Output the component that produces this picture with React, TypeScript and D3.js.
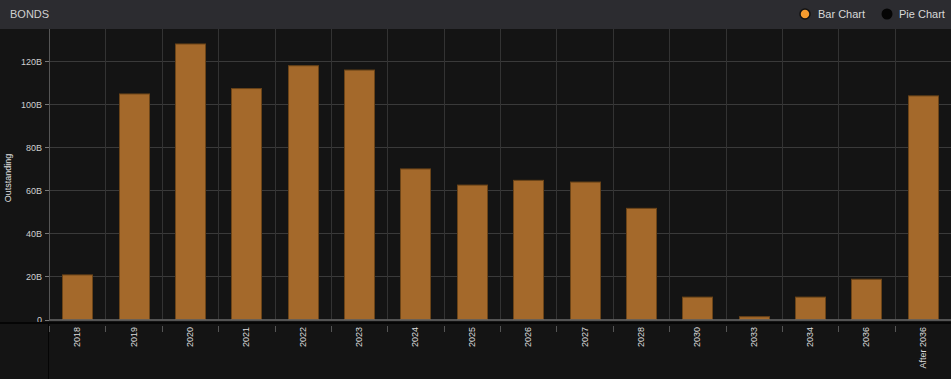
import React from "react";
import * as d3 from "d3";

const categories = ["2018","2019","2020","2021","2022","2023","2024","2025","2026","2027","2028","2030","2033","2034","2036","After 2036"];
const outstanding = [20.7,104.7,127.9,107.2,117.8,115.8,69.9,62.4,64.6,63.8,51.6,10.4,1.3,10.4,18.7,103.8];
const yTicks = [0,20,40,60,80,100,120];

const W = 951, H = 379;
const FONT = "'Liberation Sans', Arial, sans-serif";

export default function App() {
  const left = 49, right = 951, top = 29, bottom = 319.5;
  const x = d3.scaleBand<string>().domain(categories).range([left, right]).paddingInner(0.47).paddingOuter(0.235);
  const grid = d3.scaleBand<string>().domain(categories).range([left, right]).padding(0);
  const y = d3.scaleLinear().domain([0, 120]).range([bottom, 61]);
  const fmt = (v: number) => (v === 0 ? "0" : `${v}B`);

  return (
    <svg width={W} height={H} style={{ position: "absolute", left: 0, top: 0, display: "block" }} fontFamily={FONT}>
      <rect x={0} y={0} width={W} height={H} fill="#141414" />
      {/* header */}
      <rect x={0} y={0} width={W} height={29} fill="#2c2c30" />
      <text x={10} y={18} fontSize={11} fill="#d0d0d0">BONDS</text>
      <circle cx={805} cy={14} r={5} fill="#f39a2e" stroke="#111" strokeWidth={1.5} />
      <text x={818} y={18} fontSize={11} fill="#d8d8d8">Bar Chart</text>
      <circle cx={887} cy={14} r={5.5} fill="#050505" />
      <text x={899} y={18} fontSize={11} fill="#d8d8d8">Pie Chart</text>

      {/* grid */}
      {yTicks.filter(t => t > 0).map(t => (
        <line key={"h" + t} x1={left} x2={right} y1={Math.round(y(t)) + 0.5} y2={Math.round(y(t)) + 0.5} stroke="#3a3a3a" strokeWidth={1} />
      ))}
      {categories.map(c => (
        <line key={"v" + c} x1={Math.round(grid(c)!) + 0.5} x2={Math.round(grid(c)!) + 0.5} y1={top} y2={bottom} stroke="#333" strokeWidth={1} />
      ))}
      <line x1={left + 0.5} x2={left + 0.5} y1={top} y2={bottom} stroke="#555" />

      {/* y axis */}
      {yTicks.map(t => (
        <g key={"yt" + t}>
          <line x1={45} x2={49} y1={Math.round(y(t)) + 0.5} y2={Math.round(y(t)) + 0.5} stroke="#777" />
          <text x={42} y={y(t) + 3.5} fontSize={9} fill="#cfcfcf" textAnchor="end">{fmt(t)}</text>
        </g>
      ))}
      <text transform={`translate(11,178) rotate(-90)`} fontSize={9} fill="#e0e0e0" textAnchor="middle">Outstanding</text>

      {/* bars */}
      {categories.map((c, i) => (
        <rect key={"b" + c} x={Math.round(x(c)!) + 0.5} y={y(outstanding[i])} width={Math.round(x.bandwidth())} height={bottom - y(outstanding[i])}
          fill="#a4692b" stroke="#6b4418" strokeWidth={1} />
      ))}

      {/* x axis */}
      <line x1={left} x2={right} y1={320} y2={320} stroke="#6a6a6a" strokeWidth={1.5} />
      <rect x={0} y={322} width={W} height={2} fill="#050505" />
      <line x1={48.5} x2={48.5} y1={324} y2={H} stroke="#050505" strokeWidth={1} />
      {categories.map(c => (
        <line key={"xt" + c} x1={Math.round(grid(c)!) + 0.5} x2={Math.round(grid(c)!) + 0.5} y1={326} y2={332} stroke="#555" />
      ))}
      {categories.map(c => {
        const cx = x(c)! + x.bandwidth() / 2 + 3;
        return (
          <text key={"xl" + c} transform={`translate(${cx},327) rotate(-90)`} fontSize={9} fill="#dcdcdc" textAnchor="end">{c}</text>
        );
      })}
    </svg>
  );
}
